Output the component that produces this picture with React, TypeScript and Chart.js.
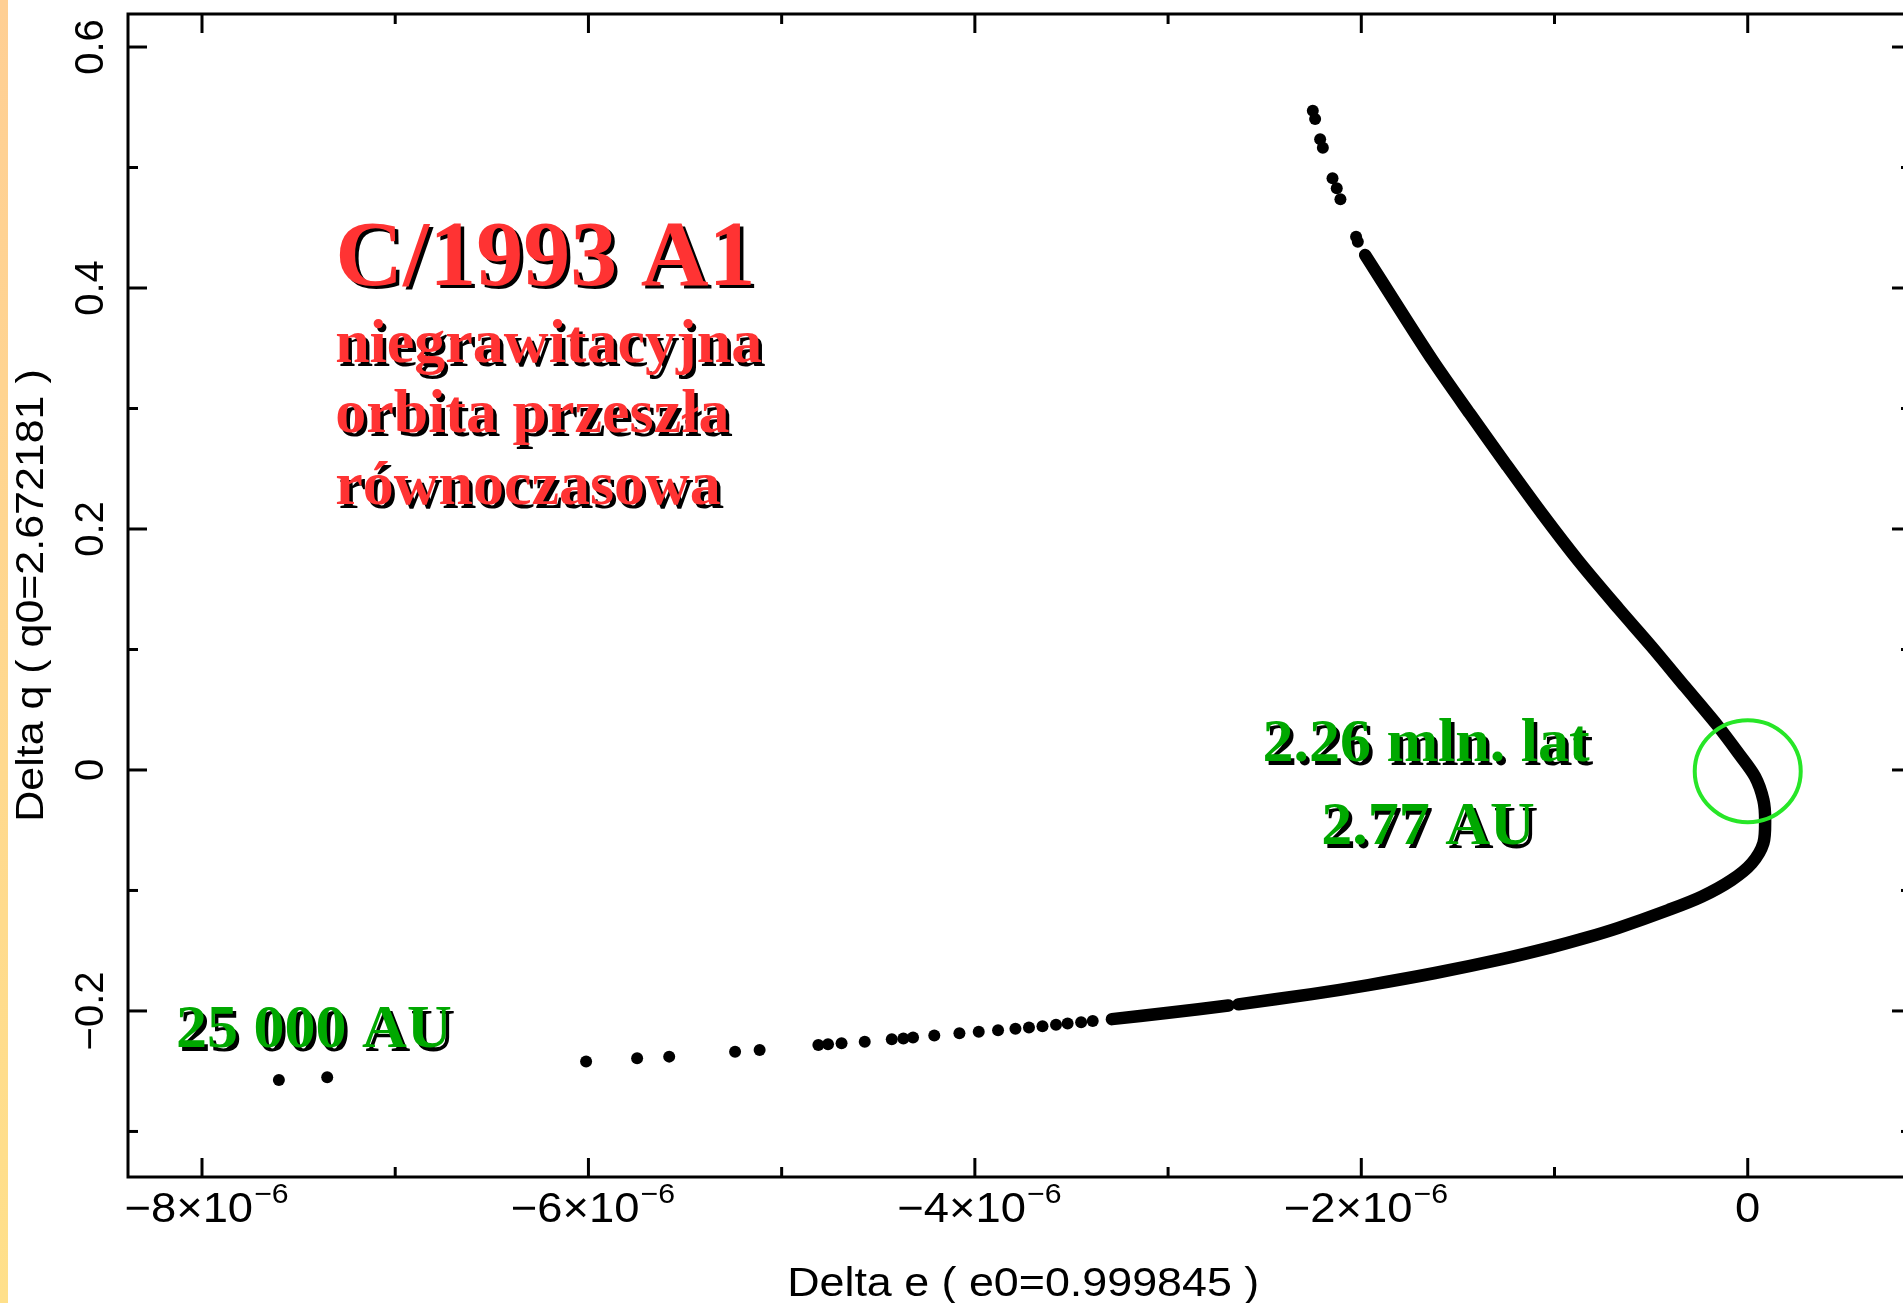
import React, { useEffect, useRef } from "react";
import { Chart, registerables } from "chart.js";

Chart.register(...registerables);

// Delta e values are in units of 1e-6, Delta q in AU
const upperDotsX = [-2.251, -2.239, -2.213, -2.199, -2.149, -2.127, -2.108, -2.027, -2.018];
const upperDotsY = [0.5471, 0.5402, 0.5234, 0.5164, 0.491, 0.4827, 0.4736, 0.4426, 0.4384];

const mainCurveX = [
  -1.98, -1.816, -1.628, -1.439, -1.251, -1.063, -0.874, -0.669, -0.497, -0.324, -0.152, -0.048,
  0.038, 0.081, 0.09, 0.081, 0.021, -0.083, -0.238, -0.41, -0.669, -0.842, -1.014, -1.273, -1.618,
  -1.963, -2.256, -2.636,
];
const mainCurveY = [
  0.4274, 0.386, 0.3393, 0.2959, 0.2537, 0.2124, 0.1731, 0.134, 0.1023, 0.069, 0.036, 0.0139,
  -0.0056, -0.0249, -0.0415, -0.0608, -0.0774, -0.0913, -0.1051, -0.1162, -0.131, -0.1395, -0.147,
  -0.157, -0.1685, -0.1785, -0.186, -0.1945,
];

const lowerSegX = [-2.688, -2.998, -3.291];
const lowerSegY = [-0.1955, -0.2015, -0.2068];

const lowerDotsX = [
  -7.602, -7.352, -6.012, -5.748, -5.582, -5.241, -5.114, -4.81, -4.76, -4.69, -4.57, -4.43,
  -4.37, -4.32, -4.21, -4.08, -3.98, -3.88, -3.79, -3.72, -3.65, -3.58, -3.52, -3.45, -3.39,
];
const lowerDotsY = [
  -0.2573, -0.255, -0.242, -0.2393, -0.2379, -0.2338, -0.2324, -0.2282, -0.2276, -0.2268, -0.2255,
  -0.2235, -0.2228, -0.222, -0.2203, -0.2185, -0.2172, -0.216, -0.2148, -0.2138, -0.2127, -0.2115,
  -0.2105, -0.2094, -0.2083,
];

const xMajorTicks = [-8, -6, -4, -2, 0];
const xMinorTicks = [-7, -5, -3, -1];
const xTickMain = ["\u22128\u00d710", "\u22126\u00d710", "\u22124\u00d710", "\u22122\u00d710", "0"];
const xTickSup = ["\u22126", "\u22126", "\u22126", "\u22126", ""];
const yMajorTicks = [-0.2, 0, 0.2, 0.4, 0.6];
const yMinorTicks = [-0.3, -0.1, 0.1, 0.3, 0.5];
const yTickLabels = ["\u22120.2", "0", "0.2", "0.4", "0.6"];

const xTitle = "Delta e ( e0=0.999845 )";
const yTitle = "Delta q ( q0=2.672181 )";

const redLines = ["C/1993 A1", "niegrawitacyjna", "orbita przesz\u0142a", "r\u00f3wnoczasowa"];
const greenLabels = ["2.26 mln. lat", "2.77 AU", "25 000 AU"];

const pts = (xs: number[], ys: number[]) => xs.map((x, i) => ({ x, y: ys[i] }));

const CANVAS_W = 1920;
const CANVAS_H = 1303;

const overlayPlugin = {
  id: "overlay",
  afterDatasetsDraw(chart: any) {
    const ctx: CanvasRenderingContext2D = chart.ctx;
    const xs = chart.scales.x;
    const ys = chart.scales.y;
    const a = chart.chartArea;
    const sans = "'Liberation Sans', Arial, sans-serif";
    const serif = "'Liberation Serif', 'Times New Roman', serif";

    ctx.save();
    // frame
    ctx.strokeStyle = "#000";
    ctx.lineWidth = 3;
    ctx.strokeRect(a.left, a.top, a.right - a.left, a.bottom - a.top);
    ctx.lineCap = "butt";
    const tick = (x1: number, y1: number, x2: number, y2: number) => {
      ctx.beginPath();
      ctx.moveTo(x1, y1);
      ctx.lineTo(x2, y2);
      ctx.stroke();
    };
    const MAJ = 19;
    const MIN = 10;
    xMajorTicks.forEach((v) => {
      const p = xs.getPixelForValue(v);
      tick(p, a.bottom, p, a.bottom - MAJ);
      tick(p, a.top, p, a.top + MAJ);
    });
    xMinorTicks.forEach((v) => {
      const p = xs.getPixelForValue(v);
      tick(p, a.bottom, p, a.bottom - MIN);
      tick(p, a.top, p, a.top + MIN);
    });
    yMajorTicks.forEach((v) => {
      const p = ys.getPixelForValue(v);
      tick(a.left, p, a.left + MAJ, p);
      tick(a.right, p, a.right - MAJ, p);
    });
    yMinorTicks.forEach((v) => {
      const p = ys.getPixelForValue(v);
      tick(a.left, p, a.left + MIN, p);
      tick(a.right, p, a.right - MIN, p);
    });

    // x tick labels
    ctx.fillStyle = "#000";
    ctx.textBaseline = "alphabetic";
    const sx = 1.08;
    xMajorTicks.forEach((v, i) => {
      const p = xs.getPixelForValue(v);
      ctx.font = `42px ${sans}`;
      const wM = ctx.measureText(xTickMain[i]).width;
      ctx.font = `28px ${sans}`;
      const wS = xTickSup[i] ? ctx.measureText(xTickSup[i]).width : 0;
      const total = (wM + wS) * sx;
      const start = p - total / 2 + (xTickSup[i] ? 4 : 0);
      ctx.save();
      ctx.translate(start, a.bottom + 45);
      ctx.scale(sx, 1);
      ctx.textAlign = "left";
      ctx.font = `42px ${sans}`;
      ctx.fillText(xTickMain[i], 0, 0);
      if (xTickSup[i]) {
        ctx.font = `28px ${sans}`;
        ctx.fillText(xTickSup[i], wM + 1, -19);
      }
      ctx.restore();
    });

    // y tick labels (rotated)
    yMajorTicks.forEach((v, i) => {
      const p = ys.getPixelForValue(v);
      ctx.save();
      ctx.translate(a.left - 25, p);
      ctx.rotate(-Math.PI / 2);
      ctx.font = `40px ${sans}`;
      ctx.textAlign = "center";
      ctx.fillText(yTickLabels[i], 0, 0);
      ctx.restore();
    });

    // axis titles
    ctx.save();
    ctx.translate(xs.getPixelForValue(-3.75), a.bottom + 119);
    ctx.scale(1.12, 1);
    ctx.font = `40px ${sans}`;
    ctx.textAlign = "center";
    ctx.fillText(xTitle, 0, 0);
    ctx.restore();

    ctx.save();
    ctx.translate(a.left - 85, (a.top + a.bottom) / 2);
    ctx.rotate(-Math.PI / 2);
    ctx.scale(1.13, 1);
    ctx.font = `38px ${sans}`;
    ctx.textAlign = "center";
    ctx.fillText(yTitle, 0, 0);
    ctx.restore();

    // green circle around (0, 0)
    ctx.beginPath();
    ctx.ellipse(xs.getPixelForValue(0), ys.getPixelForValue(-0.001), 53, 51, 0, 0, Math.PI * 2);
    ctx.strokeStyle = "#27e627";
    ctx.lineWidth = 4;
    ctx.stroke();

    // shadowed annotation text
    const shadowText = (text: string, x: number, y: number, size: number, color: string, align: CanvasTextAlign) => {
      ctx.font = `bold ${size}px ${serif}`;
      ctx.textAlign = align;
      ctx.fillStyle = "#000";
      ctx.fillText(text, x + 3.5, y + 3.5);
      ctx.fillStyle = color;
      ctx.fillText(text, x, y);
    };
    const red = "#ff3333";
    const green = "#00a800";
    const lx = xs.getPixelForValue(-7.311);
    shadowText(redLines[0], lx, ys.getPixelForValue(0.4029), 94, red, "left");
    shadowText(redLines[1], lx, ys.getPixelForValue(0.3382), 62, red, "left");
    shadowText(redLines[2], lx, ys.getPixelForValue(0.2801), 62, red, "left");
    shadowText(redLines[3], lx, ys.getPixelForValue(0.2204), 62, red, "left");
    shadowText(greenLabels[0], xs.getPixelForValue(-1.665), ys.getPixelForValue(0.0071), 62, green, "center");
    shadowText(greenLabels[1], xs.getPixelForValue(-1.655), ys.getPixelForValue(-0.0618), 62, green, "center");
    shadowText(greenLabels[2], xs.getPixelForValue(-8.134), ys.getPixelForValue(-0.2303), 62, green, "left");
    ctx.restore();
  },
};

export default function App() {
  const ref = useRef<HTMLCanvasElement | null>(null);

  useEffect(() => {
    if (!ref.current) return;
    const lineStyle = {
      showLine: true,
      borderColor: "#000",
      borderWidth: 12.5,
      borderCapStyle: "round" as const,
      borderJoinStyle: "round" as const,
      tension: 0.3,
      pointRadius: 0,
      pointHoverRadius: 0,
    };
    const dotStyle = {
      showLine: false,
      backgroundColor: "#000",
      borderWidth: 0,
      pointRadius: 6,
      pointHoverRadius: 6,
    };
    const chart = new Chart(ref.current, {
      type: "scatter",
      data: {
        datasets: [
          { label: "upper", data: pts(upperDotsX, upperDotsY), ...dotStyle },
          { label: "main", data: pts(mainCurveX, mainCurveY), ...lineStyle },
          { label: "lowerSeg", data: pts(lowerSegX, lowerSegY), ...lineStyle },
          { label: "lower", data: pts(lowerDotsX, lowerDotsY), ...dotStyle },
        ],
      },
      options: {
        animation: false,
        responsive: false,
        devicePixelRatio: 1,
        layout: { padding: { left: 128, top: 14, right: CANVAS_W - 1911, bottom: CANVAS_H - 1177 } },
        plugins: { legend: { display: false }, tooltip: { enabled: false } },
        events: [],
        scales: {
          x: { type: "linear", min: -8.383, max: 0.845, display: false },
          y: { type: "linear", min: -0.3378, max: 0.6274, display: false },
        },
      },
      plugins: [overlayPlugin],
    });
    return () => chart.destroy();
  }, []);

  return (
    <div
      style={{
        position: "fixed",
        left: 0,
        top: 0,
        width: 1903,
        height: 1303,
        overflow: "hidden",
        background: "#fff",
      }}
    >
      <canvas
        ref={ref}
        width={CANVAS_W}
        height={CANVAS_H}
        style={{ position: "absolute", left: 0, top: 0, width: CANVAS_W, height: CANVAS_H }}
      />
      <div
        style={{
          position: "absolute",
          left: 0,
          top: 0,
          width: 8,
          height: 1303,
          background: "linear-gradient(#ffcf94, #ffe08a)",
        }}
      />
    </div>
  );
}
